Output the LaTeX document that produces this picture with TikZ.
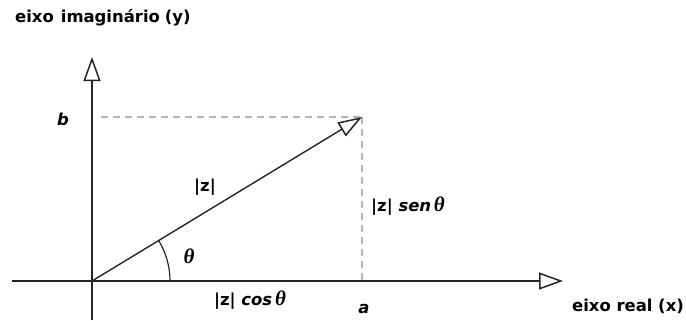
\documentclass[tikz,border=0pt]{standalone}
\usepackage{fontspec}
\setmainfont{DejaVu Sans}
\newfontfamily\thfont{Liberation Serif}
\usetikzlibrary{arrows.meta,calc}
\newcommand{\thsym}{{\thfont\bfseries\itshape θ}}
\begin{document}
\begin{tikzpicture}[x=1bp,y=-1bp,
  axis/.style={line width=1.5bp, draw=black!85,
    -{Triangle[open,length=24bp,width=17bp,line width=1.5bp]}},
  vec/.style={line width=1.4bp, draw=black!85,
    -{Triangle[open,length=24bp,width=16bp,line width=1.5bp]}},
  guide/.style={line width=1.2bp, draw=black!30, dash pattern=on 7bp off 5bp},
  lbl/.style={inner sep=0pt, font=\fontsize{16.5}{19}\selectfont\bfseries},
  ttl/.style={inner sep=0pt, font=\fontsize{16.5}{19}\selectfont\bfseries}]
\useasboundingbox (0,0) rectangle (686,320);
\fill[white] (0,0) rectangle (686,320);
% coordinates
\coordinate (O) at (92,281);
\coordinate (ybot) at (92,320);
\coordinate (ytip) at (92,57);
\coordinate (xl) at (12,281);
\coordinate (xtip) at (563,281);
\coordinate (P) at (362,117);
\coordinate (Bd) at (101,117);
\coordinate (A) at (362,281);
% guides
\draw[guide] (Bd) -- (P);
\draw[guide] (P) -- (A);
% axes
\draw[axis] (ybot) -- (ytip);
\draw[axis] (xl) -- (xtip);
% vector
\draw[vec] (O) -- (P);
% angle arc
\draw[line width=1.2bp, draw=black!85] ($(O)+(78,0)$) arc[start angle=0, end angle=-31.3, radius=78];
% labels
\node[ttl, anchor=west] (ty) at (15,18) {eixo\hspace{7bp}imaginário\hspace{5bp}(y)};
\node[ttl] (tx) at (628,306) {eixo real (x)};
\node[lbl, font=\fontsize{16.5}{19}\selectfont\bfseries\itshape] (lb) at (63,119) {b};
\node[lbl, font=\fontsize{16.5}{19}\selectfont\bfseries\itshape] (la) at (364,309) {a};
\node[lbl] (lz) at (205,187) {|z|};
\node[lbl, anchor=west] (ls) at (371,206) {|z| \textit{sen}\,{\fontsize{21}{22}\selectfont\thsym}};
\node[lbl] (lc) at (250,300) {|z| \textit{cos}\,{\fontsize{21}{22}\selectfont\thsym}};
\node[lbl] (lt) at (189,256) {\fontsize{21}{22}\selectfont\thsym};
\end{tikzpicture}
\end{document}
